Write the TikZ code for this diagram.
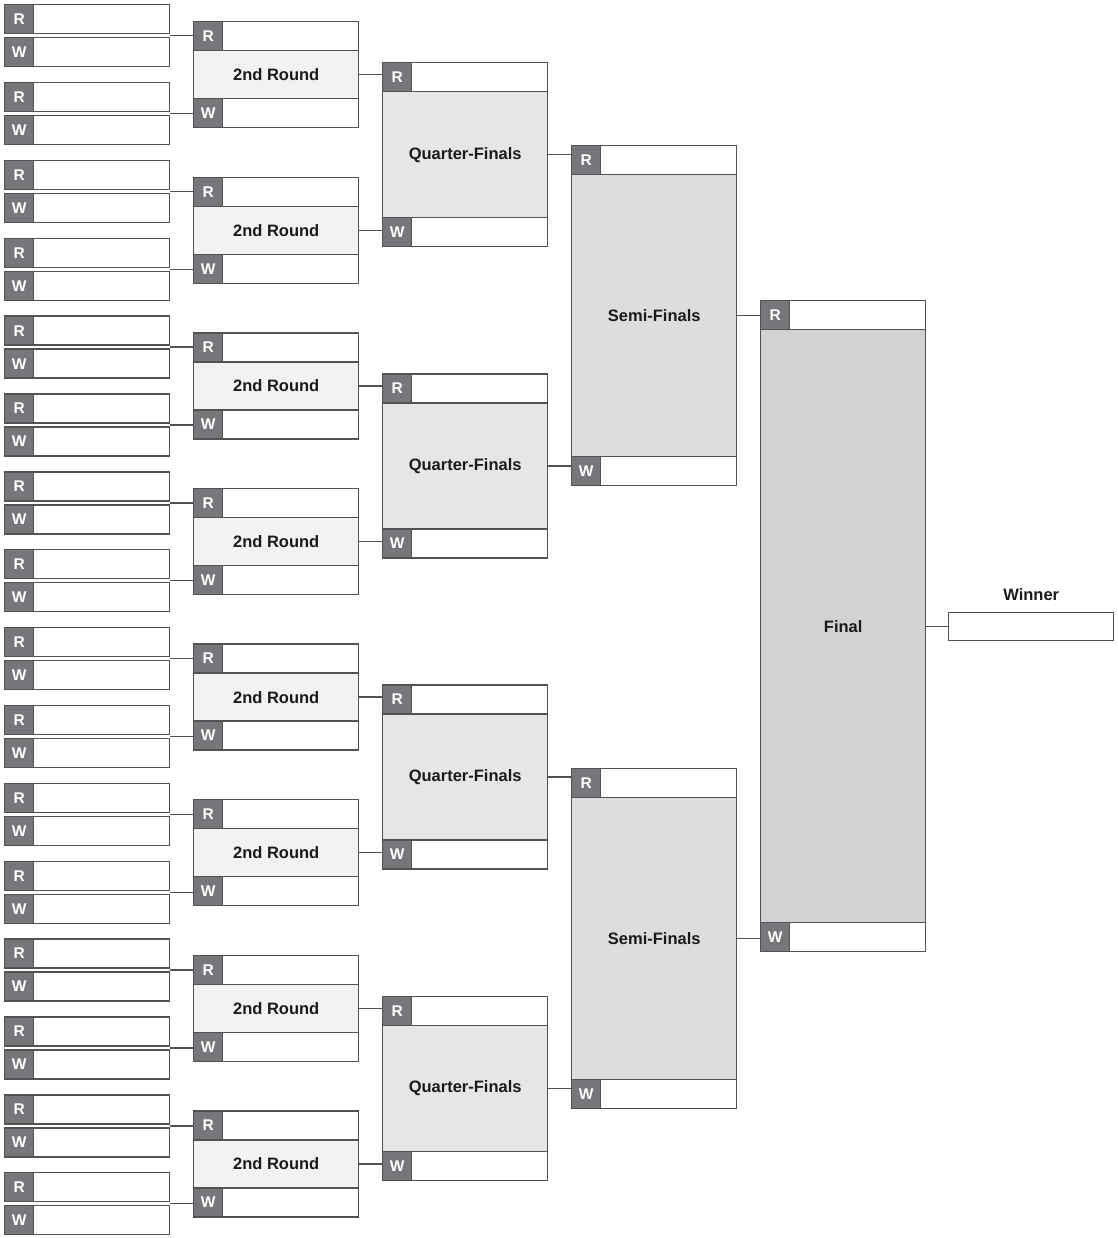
\documentclass[tikz,border=0pt]{standalone}
\usepackage{fontspec}
\setmainfont{Liberation Sans}
\usetikzlibrary{calc,positioning}

\definecolor{linegray}{HTML}{525252}
\definecolor{tabgray}{HTML}{77777B}
\definecolor{labelgray}{HTML}{1A1A1A}
\definecolor{roundfill}{HTML}{F2F2F3}
\definecolor{qffill}{HTML}{E6E6E8}
\definecolor{sffill}{HTML}{DCDDDF}
\definecolor{finalfill}{HTML}{D1D2D4}

\newcommand{\roundfont}{\fontsize{16.5}{20}\selectfont\bfseries}
\newcommand{\tabletter}{\fontsize{15.5}{18}\selectfont\bfseries}

\tikzset{
  basic/.style = {draw=linegray, line width=1.4pt, inner sep=0pt, minimum width=165pt},
  slot/.style  = {basic, fill=white, minimum height=29pt},
  tab/.style   = {draw=linegray, line width=1.4pt, fill=tabgray, text=white,
                  font=\tabletter, minimum width=29pt, minimum height=29pt, inner sep=0pt},
  match/.style = {basic, font=\roundfont, text=labelgray},
  link/.style  = {draw=linegray, line width=1.4pt}
}

\begin{document}
\begin{tikzpicture}[x=1pt, y=-1pt]
\useasboundingbox (0,0) rectangle (1117,1238);

% first round, sixteen pairs of slots
\foreach \i in {0,...,15} {
  \pgfmathsetmacro{\ytop}{4+77.87*\i}
  \node[slot, anchor=north west] (f\i-r) at (4,\ytop) {};
  \node[slot, anchor=north west] (f\i-w) at (4,\ytop+33) {};
  \node[tab, anchor=north west] (f\i-rt) at (f\i-r.north west) {R};
  \node[tab, anchor=north west] (f\i-wt) at (f\i-w.north west) {W};
}

% later rounds: name/last/x/top/spacing/height/fill/label
\foreach \name/\last/\x/\y/\dy/\h/\col/\txt in {
    r2/7/193/21/155.6/106/roundfill/2nd Round,
    qf/3/382/62/311.2/184/qffill/Quarter-Finals,
    sf/1/571/145/622.5/340/sffill/Semi-Finals,
    fin/0/760/300/0/651/finalfill/Final} {
  \foreach \k in {0,...,\last} {
    \pgfmathsetmacro{\ytop}{\y+\dy*\k}
    \node[match, fill=\col, minimum height=\h pt, anchor=north west] (\name\k) at (\x,\ytop) {\txt};
    \node[slot, anchor=north] (\name\k-r) at (\name\k.north) {};
    \node[slot, anchor=south] (\name\k-w) at (\name\k.south) {};
    \node[tab, anchor=north west] (\name\k-rt) at (\name\k-r.north west) {R};
    \node[tab, anchor=north west] (\name\k-wt) at (\name\k-w.north west) {W};
  }
}

% winner slot
\node[slot, minimum height=28pt, anchor=north west] (winner) at (948,612) {};
\node[above=8pt of winner, font=\roundfont, text=labelgray] (wintitle) {Winner};

% first round to second round
\foreach \k in {0,...,7} {
  \pgfmathtruncatemacro{\a}{2*\k}
  \pgfmathtruncatemacro{\b}{2*\k+1}
  \coordinate (j\a) at ($(f\a-r.south east)!.5!(f\a-w.north east)$);
  \coordinate (j\b) at ($(f\b-r.south east)!.5!(f\b-w.north east)$);
  \draw[link] (j\a) -- (j\a -| r2\k-r.west);
  \draw[link] (j\b) -- (j\b -| r2\k-w.west);
}

% round to round
\foreach \src/\dst/\n in {r2/qf/3, qf/sf/1, sf/fin/0} {
  \foreach \k in {0,...,\n} {
    \pgfmathtruncatemacro{\a}{2*\k}
    \pgfmathtruncatemacro{\b}{2*\k+1}
    \draw[link] (\src\a.east) -- (\src\a.east -| \dst\k-r.west);
    \draw[link] (\src\b.east) -- (\src\b.east -| \dst\k-w.west);
  }
}

\draw[link] (fin0.east) -- (fin0.east -| winner.west);
\end{tikzpicture}
\end{document}
